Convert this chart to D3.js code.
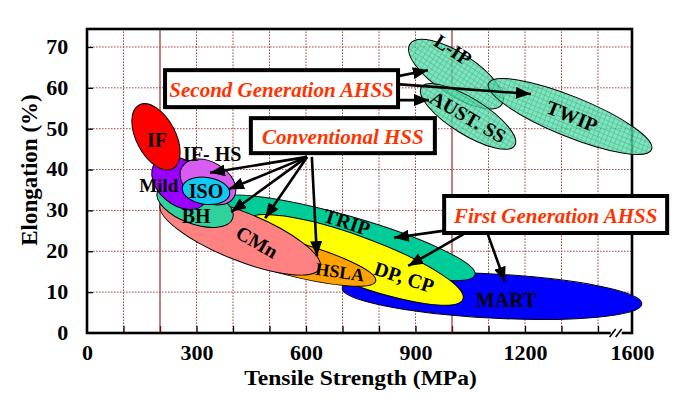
<!DOCTYPE html>
<html><head><meta charset="utf-8">
<script src="https://cdn.jsdelivr.net/npm/d3@7"></script>
<style>
body{margin:0;background:#fff}
svg{display:block}
text{font-family:"Liberation Serif","Times New Roman",serif;font-weight:bold}
</style>
</head><body>
<svg id="chart" width="688" height="411"></svg>
<script>
// ---------------- DATA ----------------
const grades      = ["MART","TRIP","DP, CP","HSLA","CMn","BH","Mild","IF- HS","ISO","IF","L-IP","AUST. SS","TWIP"];
// major-axis end points of each property band (Tensile strength MPa, Elongation %)
const axisStartTS = [699, 351, 438, 294, 201, 193, 188, 260, 261, 143, 885, 916, 1100];
const axisStartEl = [11.0, 32.4, 27.5, 24.6, 31.6, 34.7, 41.8, 40.6, 35.6, 55.8, 70.7, 60.1, 61.1];
const axisEndTS   = [1658, 1063, 1030, 791, 638, 399, 322, 403, 391, 235, 1137, 1172, 1715];
const axisEndEl   = [7.1, 14.2, 8.3, 12.7, 15.9, 28.0, 31.7, 33.3, 34.0, 40.2, 56.0, 45.9, 44.9];
const halfWidthEl = [5.4, 5.4, 5.9, 4.2, 5.9, 4.65, 5.4, 4.9, 3.3, 4.8, 5.1, 4.4, 4.9];
// band labels
const labelTS     = [1148, 712, 869, 693, 466, 299, 197, 343, 326, 192, 1003, 1044, 1329];
const labelEl     = [8.1, 27.2, 13.7, 14.9, 22.3, 28.6, 36.2, 43.8, 34.8, 47.2, 69.3, 52.9, 53.1];
const labelAngle  = [0, 18, 18, 8, 30, 0, 0, 0, 0, 0, 33, 30, 22];
// callouts
const calloutText = ["Second Generation AHSS","Conventional HSS","First Generation AHSS"];
const calloutTS   = [533, 701, 1284];
const calloutEl   = [59.8, 48.3, 29.0];
// arrows (from callout to band)
const arrowFromTS = [849, 849, 849, 603, 603, 603, 603, 616, 975, 1041, 1096];
const arrowFromEl = [62.8, 60.9, 57.0, 43.1, 43.1, 43.1, 43.1, 43.1, 25.0, 24.7, 24.7];
const arrowToTS   = [934, 1216, 937, 337, 389, 395, 488, 630, 841, 880, 1145];
const arrowToEl   = [64.3, 58.5, 57.0, 39.2, 35.2, 29.6, 28.1, 18.8, 23.3, 16.4, 12.5];
// axes
const xMinorTicks = d3.range(100, 1500, 100);
const xLabelVals  = [0, 300, 600, 900, 1200, 1600];
const yTicks      = [0, 10, 20, 30, 40, 50, 60, 70];
const xSolidGrid  = [200, 1000];

// ---------------- STYLE / LAYOUT ----------------
const W = 688, H = 411;
const M = {l: 87, r: 56, t: 29, b: 78};
const fillOf = {
  "MART":"#0000ff","TRIP":"#00cc99","DP, CP":"#ffff00","HSLA":"#ffa200","CMn":"#ff8282",
  "BH":"#30d29b","Mild":"#9a00ff","IF- HS":"#d95cf0","ISO":"#10c8f2","IF":"#ff0000",
  "L-IP":"url(#hatch)","AUST. SS":"url(#hatch)","TWIP":"url(#hatch)"
};
const labelSize = {"HSLA":18,"Mild":19};
const calloutBox = [{w:233,h:37},{w:184,h:35},{w:223,h:37}];

const svg = d3.select("#chart");
svg.append("rect").attr("width",W).attr("height",H).attr("fill","#fff");

// broken axis: 0..1400 linear, then break to 1600
const x = d3.scaleLinear().domain([0,1400,1600]).range([M.l, 598, W - M.r]);
const y = d3.scaleLinear().domain([0,74.4]).range([H - M.b, M.t]);

const defs = svg.append("defs");
const pat = defs.append("pattern").attr("id","hatch").attr("patternUnits","userSpaceOnUse")
  .attr("width",4.6).attr("height",4.6);
pat.append("rect").attr("width",4.6).attr("height",4.6).attr("fill","#62dcae");
pat.append("path").attr("d","M0,0.4H4.6M0.4,0V4.6").attr("stroke","#22b47f").attr("stroke-width",0.8);
defs.append("marker").attr("id","ah").attr("markerUnits","userSpaceOnUse")
  .attr("markerWidth",15).attr("markerHeight",12).attr("refX",15).attr("refY",6)
  .attr("orient","auto").append("path").attr("d","M0,0L15,6L0,12Z").attr("fill","#000");

// grid
const grid = svg.append("g");
grid.selectAll("line.v").data(xMinorTicks).join("line")
  .attr("x1",d=>x(d)).attr("x2",d=>x(d)).attr("y1",y(0)).attr("y2",M.t)
  .attr("stroke",d=>xSolidGrid.includes(d)?"#8b0000":"#a84848")
  .attr("stroke-width",1)
  .attr("stroke-dasharray",d=>xSolidGrid.includes(d)?null:"1.6,1.4");
grid.selectAll("line.h").data(yTicks.slice(1)).join("line")
  .attr("x1",M.l).attr("x2",W-M.r).attr("y1",d=>y(d)).attr("y2",d=>y(d))
  .attr("stroke","#a84848").attr("stroke-width",1).attr("stroke-dasharray","1.6,1.4");

// ticks (inward)
svg.append("g").attr("transform",`translate(0,${y(0)})`)
  .call(d3.axisBottom(x).tickValues(xMinorTicks).tickSizeInner(-7).tickSizeOuter(0).tickFormat(""))
  .call(g=>g.select(".domain").remove())
  .call(g=>g.selectAll("line").attr("stroke",d=>xSolidGrid.includes(d)?"#8b0000":"#000").attr("stroke-width",1.3));
svg.append("g").attr("transform",`translate(${M.l},0)`)
  .call(d3.axisLeft(y).tickValues(yTicks.slice(1)).tickSizeInner(-6).tickSizeOuter(0).tickFormat(""))
  .call(g=>g.select(".domain").remove())
  .call(g=>g.selectAll("line").attr("stroke","#000").attr("stroke-width",1.3));

// tick labels
const xl = svg.append("g").attr("transform",`translate(0,${y(0)})`)
  .call(d3.axisBottom(x).tickValues(xLabelVals).tickSize(0).tickPadding(13).tickFormat(d3.format("d")));
xl.select(".domain").remove();
xl.attr("font-family",null).attr("font-size",20).selectAll("text")
  .attr("fill","#000").attr("transform","scale(1.1,1)");
const yl = svg.append("g").attr("transform",`translate(${M.l},0)`)
  .call(d3.axisLeft(y).tickValues(yTicks).tickSize(0).tickPadding(17).tickFormat(d3.format("d")));
yl.select(".domain").remove();
yl.attr("font-family",null).attr("font-size",20).selectAll("text")
  .attr("fill","#000").attr("transform","scale(1.1,1)");

// frame
svg.append("rect").attr("x",M.l).attr("y",M.t).attr("width",W-M.l-M.r).attr("height",H-M.t-M.b)
  .attr("fill","none").attr("stroke","#000").attr("stroke-width",2.6);
// axis break
const bx = x(1400) + (x(1600)-x(1400))*0.55;
svg.append("rect").attr("x",bx-6).attr("y",y(0)-3).attr("width",11).attr("height",6).attr("fill","#fff");
[-4,2].forEach(o=>svg.append("line").attr("x1",bx+o-3).attr("y1",y(0)+4).attr("x2",bx+o+3).attr("y2",y(0)-4)
  .attr("stroke","#000").attr("stroke-width",1.6));

// axis titles
svg.append("text").attr("transform",`translate(${(M.l+W-M.r)/2+1},385) scale(1.07,1)`)
  .attr("text-anchor","middle").attr("font-size",22).text("Tensile Strength (MPa)");
svg.append("text").attr("transform","translate(37,170) rotate(-90)")
  .attr("text-anchor","middle").attr("font-size",23).text("Elongation (%)");

// property bands
const bands = grades.map((g,i)=>{
  const x1=x(axisStartTS[i]), y1=y(axisStartEl[i]), x2=x(axisEndTS[i]), y2=y(axisEndEl[i]);
  return {g, cx:(x1+x2)/2, cy:(y1+y2)/2, rx:Math.hypot(x2-x1,y2-y1)/2,
    ry:y(0)-y(halfWidthEl[i]), ang:Math.atan2(y2-y1,x2-x1)*180/Math.PI,
    second:fillOf[g].startsWith("url")};
});
svg.append("g").selectAll("ellipse").data(bands).join("ellipse")
  .attr("cx",d=>d.cx).attr("cy",d=>d.cy).attr("rx",d=>d.rx).attr("ry",d=>d.ry)
  .attr("transform",d=>`rotate(${d.ang},${d.cx},${d.cy})`)
  .attr("fill",d=>fillOf[d.g]).attr("fill-opacity",d=>d.second?0.8:1)
  .attr("stroke","#000").attr("stroke-width",1);

// band labels
svg.append("g").selectAll("text").data(grades).join("text")
  .attr("transform",(g,i)=>`translate(${x(labelTS[i])},${y(labelEl[i])}) rotate(${labelAngle[i]})`)
  .attr("text-anchor","middle").attr("dominant-baseline","central")
  .attr("font-size",g=>labelSize[g]||20).attr("fill","#000").text(g=>g);

// arrows
svg.append("g").selectAll("line").data(arrowFromTS).join("line")
  .attr("x1",(d,i)=>x(arrowFromTS[i])).attr("y1",(d,i)=>y(arrowFromEl[i]))
  .attr("x2",(d,i)=>x(arrowToTS[i])).attr("y2",(d,i)=>y(arrowToEl[i]))
  .attr("stroke","#000").attr("stroke-width",2.6).attr("marker-end","url(#ah)");

// callouts
const co = svg.append("g").selectAll("g").data(calloutText).join("g")
  .attr("transform",(t,i)=>`translate(${x(calloutTS[i])},${y(calloutEl[i])})`);
co.append("rect").attr("x",(t,i)=>-calloutBox[i].w/2).attr("y",(t,i)=>-calloutBox[i].h/2)
  .attr("width",(t,i)=>calloutBox[i].w).attr("height",(t,i)=>calloutBox[i].h)
  .attr("fill","#fff").attr("stroke","#000").attr("stroke-width",4);
co.append("text").attr("text-anchor","middle").attr("dominant-baseline","central").attr("y",1)
  .attr("font-size",21).attr("font-style","italic").attr("fill","#ff3300").text(t=>t);
</script>
</body></html>
